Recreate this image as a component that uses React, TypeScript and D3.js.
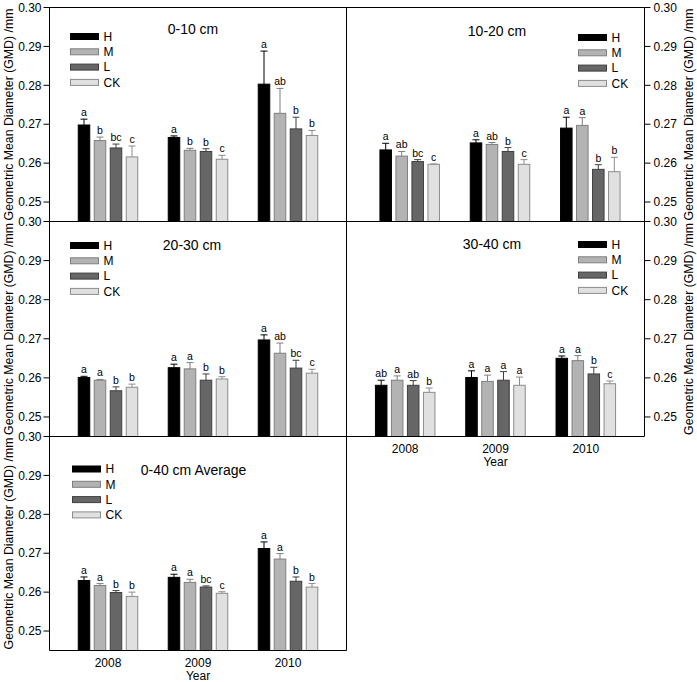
import React from "react";
import * as d3 from "d3";

// ---------- data ----------
const years = ["2008", "2009", "2010"];
const treatments = ["H", "M", "L", "CK"];
const yTicks = [0.25, 0.26, 0.27, 0.28, 0.29, 0.3];
const yAxisTitle = "Geometric Mean Diameter (GMD) /mm";
const xAxisTitle = "Year";

// rows: H, M, L, CK ; columns: 2008, 2009, 2010
const mean0_10 = [
  [0.2698, 0.2666, 0.2803],
  [0.2658, 0.2633, 0.2728],
  [0.2639, 0.263, 0.2688],
  [0.2616, 0.261, 0.2671],
];
const err0_10 = [
  [0.0015, 0.0004, 0.0085],
  [0.0009, 0.0005, 0.0064],
  [0.001, 0.0007, 0.003],
  [0.0028, 0.001, 0.0013],
];
const sig0_10 = [
  ["a", "a", "a"],
  ["b", "b", "ab"],
  ["bc", "b", "b"],
  ["c", "c", "b"],
];

const mean10_20 = [
  [0.2634, 0.2652, 0.269],
  [0.2618, 0.2648, 0.2697],
  [0.2604, 0.263, 0.2584],
  [0.2597, 0.2597, 0.2578],
];
const err10_20 = [
  [0.0017, 0.0008, 0.0028],
  [0.0012, 0.0005, 0.002],
  [0.0005, 0.001, 0.0012],
  [0.0001, 0.0012, 0.0037],
];
const sig10_20 = [
  ["a", "a", "a"],
  ["ab", "ab", "a"],
  ["bc", "b", "b"],
  ["c", "c", "b"],
];

const mean20_30 = [
  [0.2601, 0.2626, 0.2697],
  [0.2594, 0.2623, 0.2663],
  [0.2567, 0.2594, 0.2625],
  [0.2576, 0.2597, 0.2612],
];
const err20_30 = [
  [0.0003, 0.0009, 0.0013],
  [0.0002, 0.0016, 0.0026],
  [0.001, 0.0016, 0.002],
  [0.0008, 0.0006, 0.001],
];
const sig20_30 = [
  ["a", "a", "a"],
  ["a", "a", "ab"],
  ["b", "b", "bc"],
  ["b", "b", "c"],
];

const mean30_40 = [
  [0.2581, 0.2601, 0.265],
  [0.2594, 0.2591, 0.2644],
  [0.2581, 0.2594, 0.261],
  [0.2563, 0.2581, 0.2585],
];
const err30_40 = [
  [0.0013, 0.0017, 0.0006],
  [0.0011, 0.0016, 0.0013],
  [0.0012, 0.0022, 0.0017],
  [0.0011, 0.0021, 0.0007],
];
const sig30_40 = [
  ["ab", "a", "a"],
  ["a", "a", "a"],
  ["ab", "a", "b"],
  ["b", "a", "c"],
];

const meanAvg = [
  [0.263, 0.2638, 0.2712],
  [0.2617, 0.2625, 0.2685],
  [0.2599, 0.2613, 0.2628],
  [0.2589, 0.2597, 0.2613],
];
const errAvg = [
  [0.0009, 0.0008, 0.0017],
  [0.0005, 0.0008, 0.0014],
  [0.0005, 0.0003, 0.0011],
  [0.0011, 0.0004, 0.0009],
];
const sigAvg = [
  ["a", "a", "a"],
  ["a", "a", "a"],
  ["b", "bc", "b"],
  ["b", "c", "b"],
];

// ---------- style / layout ----------
const FONT = "'Liberation Sans', Arial, Helvetica, sans-serif";
const fills = ["#000000", "#b3b3b3", "#666666", "#e0e0e0"];
const strokes = ["#000000", "#7f7f7f", "#3f3f3f", "#8c8c8c"];

const LX0 = 49.5;
const MX = 346.5;
const RX1 = 644.5;
const ROWS = [7.5, 221.5, 436.5, 650.5];
const Y_DOMAIN = [0.245, 0.3];

type Panel = {
  title: string;
  means: number[][];
  errs: number[][];
  sigs: string[][];
  col: number;
  row: number;
  shift: number;
  legendX: number;
  legendY: number;
  titleX: number;
  titleY: number;
  xLabels: boolean;
};

const panels: Panel[] = [
  { title: "0-10 cm", means: mean0_10, errs: err0_10, sigs: sig0_10, col: 0, row: 0, shift: 0, legendX: 70.5, legendY: 36.5, titleX: 193, titleY: 29.5, xLabels: false },
  { title: "10-20 cm", means: mean10_20, errs: err10_20, sigs: sig10_20, col: 1, row: 0, shift: 4.5, legendX: 578.5, legendY: 37.5, titleX: 497, titleY: 31.5, xLabels: false },
  { title: "20-30 cm", means: mean20_30, errs: err20_30, sigs: sig20_30, col: 0, row: 1, shift: 0, legendX: 70.5, legendY: 245.5, titleX: 192, titleY: 245.5, xLabels: false },
  { title: "30-40 cm", means: mean30_40, errs: err30_40, sigs: sig30_40, col: 1, row: 1, shift: 0, legendX: 578.5, legendY: 244.5, titleX: 492, titleY: 244, xLabels: true },
  { title: "0-40 cm Average", means: meanAvg, errs: errAvg, sigs: sigAvg, col: 0, row: 2, shift: 0, legendX: 72.5, legendY: 469, titleX: 193.5, titleY: 470.5, xLabels: true },
];

const LEG_STEP = 15.3;

function PanelView({ p }: { p: Panel }) {
  const x0 = p.col === 0 ? LX0 : MX;
  const x1 = p.col === 0 ? MX : RX1;
  const yTop = ROWS[p.row];
  const yBot = ROWS[p.row + 1];
  const y = d3.scaleLinear().domain(Y_DOMAIN).range([yBot, yTop]);
  const x = d3.scalePoint<string>().domain(years).range([x0 + p.shift, x1 + p.shift]).padding(0.65);
  const inner = d3
    .scaleBand<string>()
    .domain(treatments)
    .range([-32, 32])
    .paddingInner(0.28)
    .paddingOuter(0.14);
  const bw = inner.bandwidth();
  const left = p.col === 0;
  const labelX = left ? 9 : 689;
  const midY = (yTop + yBot) / 2;

  return (
    <g>
      {/* bars */}
      {treatments.map((t, ti) =>
        years.map((yr, yi) => {
          const v = p.means[ti][yi];
          const e = p.errs[ti][yi];
          const cx = (x(yr) as number) + (inner(t) as number) + bw / 2;
          const top = y(v);
          const et = y(v + e);
          return (
            <g key={t + yr}>
              <rect
                x={cx - bw / 2}
                y={top}
                width={bw}
                height={yBot - top}
                fill={fills[ti]}
                stroke={strokes[ti]}
                strokeWidth={1}
              />
              <line x1={cx} x2={cx} y1={top} y2={et} stroke={strokes[ti]} strokeWidth={1} />
              <line x1={cx - 3.5} x2={cx + 3.5} y1={et} y2={et} stroke={strokes[ti]} strokeWidth={1} />
              <text x={cx} y={et - 3} textAnchor="middle" fontSize={10.5} fill="#000">
                {p.sigs[ti][yi]}
              </text>
            </g>
          );
        })
      )}
      {/* y ticks */}
      {yTicks.map((tv) => {
        const ty = y(tv);
        return left ? (
          <g key={tv}>
            <line x1={LX0 - 6} x2={LX0} y1={ty} y2={ty} stroke="#000" />
            <text x={LX0 - 8} y={ty} dy="0.35em" textAnchor="end" fontSize={12}>
              {tv.toFixed(2)}
            </text>
          </g>
        ) : (
          <g key={tv}>
            <line x1={RX1} x2={RX1 + 6} y1={ty} y2={ty} stroke="#000" />
            <text x={RX1 + 9} y={ty} dy="0.35em" textAnchor="start" fontSize={12}>
              {tv.toFixed(2)}
            </text>
          </g>
        );
      })}
      {/* y axis title */}
      <text
        transform={`translate(${labelX},${midY}) rotate(-90)`}
        textAnchor="middle"
        dy="0.35em"
        fontSize={12.3}
      >
        {yAxisTitle}
      </text>
      {/* panel title */}
      <text x={p.titleX} y={p.titleY} dy="0.35em" textAnchor="middle" fontSize={14}>
        {p.title}
      </text>
      {/* legend */}
      {treatments.map((t, ti) => {
        const ly = p.legendY + ti * LEG_STEP;
        return (
          <g key={"leg" + t}>
            <rect x={p.legendX} y={ly - 3} width={28} height={6} fill={fills[ti]} stroke={strokes[ti]} strokeWidth={1} />
            <text x={p.legendX + 33} y={ly} dy="0.35em" fontSize={12}>
              {t}
            </text>
          </g>
        );
      })}
      {/* x labels */}
      {p.xLabels && (
        <g>
          {years.map((yr) => (
            <text key={yr} x={x(yr) as number} y={yBot + 12} dy="0.35em" textAnchor="middle" fontSize={12}>
              {yr}
            </text>
          ))}
          <text x={(x0 + x1) / 2 + p.shift} y={yBot + 25} dy="0.35em" textAnchor="middle" fontSize={12}>
            {xAxisTitle}
          </text>
        </g>
      )}
    </g>
  );
}

export default function App() {
  return (
    <svg
      width={697}
      height={682}
      style={{ position: "absolute", left: 0, top: 0, background: "#fff" }}
      fontFamily={FONT}
    >
      <rect x={0} y={0} width={697} height={682} fill="#fff" />
      {panels.map((p) => (
        <PanelView key={p.title} p={p} />
      ))}
      {/* frame lines */}
      <g stroke="#000" strokeWidth={1} fill="none">
        <line x1={LX0} x2={RX1} y1={ROWS[0]} y2={ROWS[0]} />
        <line x1={LX0} x2={RX1} y1={ROWS[1]} y2={ROWS[1]} />
        <line x1={LX0} x2={RX1} y1={ROWS[2]} y2={ROWS[2]} />
        <line x1={LX0} x2={MX} y1={ROWS[3]} y2={ROWS[3]} />
        <line x1={LX0} x2={LX0} y1={ROWS[0]} y2={ROWS[3]} />
        <line x1={MX} x2={MX} y1={ROWS[0]} y2={ROWS[3]} />
        <line x1={RX1} x2={RX1} y1={ROWS[0]} y2={ROWS[2]} />
      </g>
    </svg>
  );
}
